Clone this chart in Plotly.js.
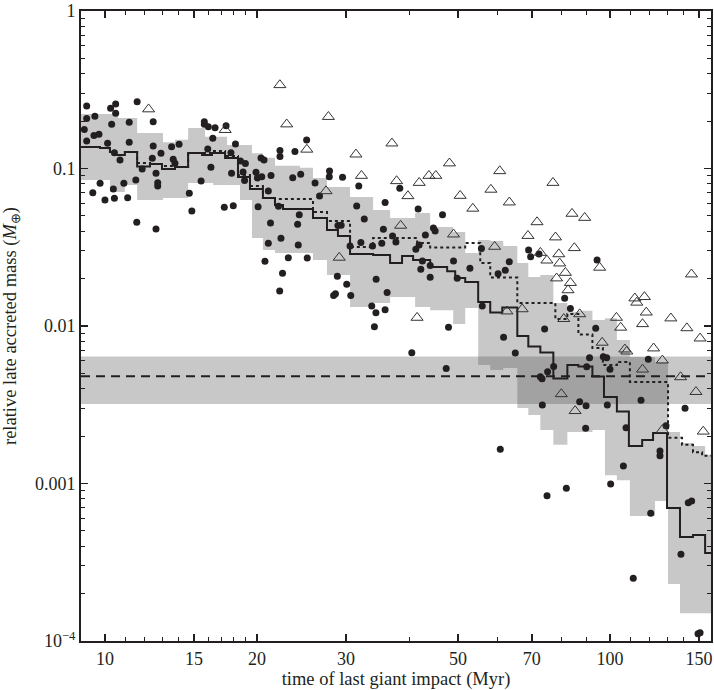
<!DOCTYPE html>
<html><head><meta charset="utf-8">
<script src="https://cdn.plot.ly/plotly-3.0.1.min.js"></script>
<style>html,body{margin:0;padding:0;background:#fff}#chart{width:714px;height:690px}</style>
</head><body><div id="chart"></div>
<script>
// filled circles: time of last giant impact (Myr), relative late accreted mass
const circleTime = [9.20,9.20,9.10,9.20,9.55,9.51,9.73,10.26,10.5,10.5,10.31,10.12,10.44,10.71,11.17,11.17,11.58,12.46,12.46,12.41,
12.91,13.55,14.02,13.65,13.76,11.85,12.62,12.72,12.72,9.46,9.78,10.0,10.44,10.39,10.9,11.09,11.51,11.56,12.62,14.69,
14.86,15.5,15.73,15.73,16.02,16.52,16.35,15.98,16.21,17.37,18.13,17.76,17.81,17.23,17.95,18.55,18.97,18.77,18.9,19.91,
20.03,20.44,20.37,20.65,21.32,21.06,20.1,21.27,21.06,20.74,22.31,25.08,22.21,22.21,23.78,23.54,24.41,27.84,27.81,29.54,
26.06,31.81,26.6,22.06,24.25,31.51,35.87,38.35,41.7,46.6,24.07,28.93,29.36,32.62,35.59,43.1,44.71,45.06,24.14,30.57,
32.12,33.87,35.33,37.11,37.68,41.26,41.89,42.52,42.21,44.05,44.05,49.0,49.83,52.8,23.07,25.15,22.47,28.85,30.11,22.18,
28.36,28.6,30.67,34.43,36.2,33.75,34.4,35.87,34.16,47.89,40.51,47.39,55.65,69.0,69.64,72.36,63.18,62.04,60.04,94.29,
81.33,83.48,55.86,74.23,93.7,61.56,64.94,91.1,97.0,98.5,100,119.1,77.35,75.25,72.79,73.36,89.93,115.2,73.46,87.09,
89.68,98.78,140.8,89.5,60.64,107.6,129.1,125.6,125.6,106.3,100.3,81.96,75.05,120.4,142.9,145.1,138.2,111.2,149.4,150.8];
const circleMass = [0.249,0.208,0.177,0.1495,0.215,0.162,0.165,0.241,0.257,0.224,0.191,0.1445,0.126,0.1132,0.1965,0.1467,0.2655,0.198,0.139,0.116,
0.1248,0.1375,0.1424,0.1143,0.1078,0.0992,0.0932,0.0812,0.0774,0.0702,0.0805,0.0631,0.0647,0.0741,0.0805,0.0652,0.0845,0.0455,0.0413,0.0696,
0.0537,0.0833,0.198,0.1907,0.184,0.1815,0.1555,0.133,0.1017,0.187,0.143,0.126,0.0932,0.0567,0.058,0.1116,0.1075,0.095,0.0839,0.0946,
0.087,0.0887,0.1166,0.1132,0.0902,0.0719,0.0572,0.0451,0.0335,0.0258,0.0361,0.1517,0.130,0.119,0.128,0.0874,0.092,0.0964,0.0887,0.0879,
0.0808,0.0774,0.0669,0.0575,0.0509,0.0577,0.0608,0.0748,0.0553,0.0509,0.0442,0.0434,0.0436,0.0478,0.0412,0.0378,0.0419,0.0401,0.0327,0.0322,
0.0339,0.0322,0.0335,0.0373,0.0341,0.0307,0.0327,0.0259,0.0229,0.0242,0.0204,0.0259,0.0201,0.0233,0.0271,0.027,0.0216,0.0207,0.0184,0.0167,
0.0156,0.016,0.0156,0.0198,0.0163,0.0134,0.01215,0.0127,0.0099,0.00981,0.00676,0.00538,0.031,0.0304,0.0275,0.0286,0.0256,0.0226,0.0215,0.0262,
0.015,0.0129,0.0134,0.00957,0.00967,0.00848,0.00673,0.00629,0.00638,0.00629,0.00531,0.00614,0.00554,0.00512,0.00476,0.00463,0.00551,0.00338,0.00315,0.00331,
0.00312,0.00315,0.0030,0.00224,0.00165,0.00226,0.00233,0.00161,0.0015,0.00129,0.000992,0.000932,0.000837,0.000647,0.000755,0.000774,0.000356,0.00025,0.000111,0.000113];

// open triangles
const triTime = [12.2,17.3,22.2,22.9,27.7,25.1,31.4,32.2,37.0,37.8,39.8,41.9,43.8,45.2,48.1,50.5,27.4,38.5,49.0,29.1,
41.5,53.5,60.5,77.1,58.1,63.2,84.1,89.1,71.7,68.8,78.0,85.0,79.2,72.8,75.0,79.5,81.6,78.4,83.5,82.6,
95.4,145,59.1,67.0,62.5,81.0,87.1,112,117,113,118,116,132,103,105,142,150.8,96.5,122,107,
108,127,116,138,148,80.1,85.3,127,153];
const triMass = [0.238,0.176,0.339,0.191,0.213,0.132,0.123,0.090,0.1445,0.0833,0.0669,0.0812,0.090,0.090,0.108,0.0672,0.0719,0.0434,0.0382,0.0272,
0.0113,0.0557,0.0964,0.0812,0.0735,0.061,0.0517,0.0487,0.0457,0.0374,0.0366,0.0313,0.0286,0.0292,0.0261,0.025,0.0218,0.0201,0.0188,0.0169,
0.0235,0.0213,0.0319,0.0128,0.0124,0.0111,0.0119,0.0150,0.0153,0.0141,0.0122,0.0103,0.0112,0.0113,0.00978,0.0097,0.00835,0.00785,0.00722,0.00711,
0.0069,0.00605,0.0053,0.00474,0.00382,0.0037,0.00289,0.00219,0.00214];

// shaded range (step) of the filled circles
const bandEdges = [8.965,10.23,10.61,10.95,11.58,13.03,13.76,14.61,15.78,16.37,17.45,18.51,19.55,20.55,21.71,24.33,25.82,27.52,30.57,33.96,
36.69,41.13,44.05,48.93,51.68,54.83,57.93,61.47,65.54,68.91,72.79,77.24,82.34,86.58,92.30,97.75,103.2,109.5,122.8,130.3,137.6,146.0,154.3,158.5];
const bandUpper = [0.222,0.222,0.209,0.209,0.168,0.147,0.152,0.181,0.159,0.159,0.141,0.141,0.125,0.117,0.104,0.101,0.087,0.0763,0.0659,0.0545,
0.0485,0.0522,0.0425,0.0395,0.0291,0.0352,0.0346,0.0322,0.0251,0.0205,0.0211,0.0140,0.0123,0.0125,0.0109,0.0112,0.00815,0.00636,0.00591,0.00212,0.00181,0.00173,0.00152];
const bandLower = [0.0845,0.0709,0.0709,0.0785,0.0631,0.0650,0.0650,0.0809,0.0809,0.0785,0.0785,0.0631,0.0362,0.0304,0.0291,0.0291,0.0262,0.0211,0.0132,0.0140,
0.0153,0.0132,0.0126,0.0103,0.0130,0.00565,0.00525,0.00541,0.00302,0.00272,0.00219,0.00176,0.00212,0.00212,0.00219,0.00113,0.00105,0.000622,0.000774,0.00023,0.00015,0.00015,0.00015];

// median of the filled circles (solid step line)
const medEdges = [8.965,9.775,10.23,10.47,10.95,11.58,12.28,12.97,13.76,14.61,15.57,16.29,17.29,18.34,19.37,20.55,21.71,22.52,25.82,27.52,
28.93,30.57,33.96,36.69,38.75,40.75,44.05,47.60,49.38,51.68,54.83,57.93,61.19,65.54,68.91,72.79,77.24,82.34,86.58,92.30,
97.30,103.2,109.0,115.8,121.7,129.7,137.6,146.0,154.3,158.5];
const medMass = [0.1369,0.1349,0.1273,0.1218,0.1273,0.1029,0.1068,0.0993,0.1022,0.1254,0.1218,0.1254,0.1166,0.0883,0.0741,0.0650,0.0586,0.0553,0.0485,0.0407,
0.0373,0.0287,0.0282,0.0251,0.0278,0.0262,0.0237,0.0223,0.0202,0.0190,0.0142,0.01218,0.0131,0.00864,0.00741,0.00679,0.00464,0.00565,0.00553,0.00478,
0.00354,0.00287,0.00173,0.00189,0.00209,0.000699,0.000457,0.000471,0.000362];

// median of all simulations (dotted step line)
const allEdges = [8.965,9.775,10.23,10.47,10.95,11.58,12.28,12.97,13.76,14.61,15.57,16.29,17.29,18.34,19.37,20.55,21.71,25.82,27.52,30.57,
33.96,41.51,44.05,51.68,55.35,57.93,65.54,77.95,82.34,86.58,92.30,96.82,103.2,109.5,130.3,138.9,146.0,152.2,158.5];
const allMass = [0.1369,0.1349,0.1273,0.1218,0.1273,0.1083,0.1068,0.1037,0.1022,0.1254,0.1254,0.1292,0.1201,0.0909,0.0774,0.0650,0.0640,0.0530,0.0464,0.0317,
0.0362,0.0337,0.0315,0.0337,0.0251,0.0203,0.0140,0.01107,0.01192,0.00883,0.00725,0.00565,0.00591,0.00441,0.00195,0.00176,0.00158,0.00150];

// reference late-veneer mass and its range
const refMass = 0.0048, refLow = 0.0032, refHigh = 0.0064;

const xRange = [8.965, 158.5];
const yRange = [1e-4, 1];
const xTickVals = [10,15,20,30,50,70,100,150];
const xTickText = ['10','15','20','30','50','70','100','150'];
const xMinorVals = [11,12,13,14,16,17,18,19,40,60,80,90,110,120,130,140];
const yTickVals = [1e-4,1e-3,1e-2,1e-1,1];
const yTickText = ['10<sup>\u22124</sup>','0.001','0.01','0.1','1'];
const yDecades = [1e-4,1e-3,1e-2,1e-1];

const yMinorVals = [];
yDecades.forEach(d => { for (let k = 2; k <= 9; k++) yMinorVals.push(k*d); });

function steps(edges, levels){
  const xs=[], ys=[];
  for (let i=0;i<levels.length;i++){ xs.push(edges[i], edges[i+1]); ys.push(levels[i], levels[i]); }
  return {xs, ys};
}
const up = steps(bandEdges, bandUpper), lo = steps(bandEdges, bandLower);
const polyX = up.xs.concat(lo.xs.slice().reverse());
const polyY = up.ys.concat(lo.ys.slice().reverse());
const med = steps(medEdges, medMass);
const all = steps(allEdges, allMass);

const ink = '#231f20';
const fnt = 'Liberation Serif, Times New Roman, serif';
const grey = 'rgba(78,78,82,0.31)';

const traces = [
  {x: polyX, y: polyY, mode:'lines', fill:'toself', fillcolor: grey, line:{width:0}, hoverinfo:'skip', showlegend:false},
  {x: xRange, y: [refMass, refMass], mode:'lines', line:{color: ink, width:2, dash:'9px,6px'}, showlegend:false},
  {x: med.xs, y: med.ys, mode:'lines', line:{color: ink, width:2}, showlegend:false},
  {x: all.xs, y: all.ys, mode:'lines', line:{color: ink, width:2, dash:'3px,3px'}, showlegend:false},
  {x: circleTime, y: circleMass, mode:'markers', marker:{symbol:'circle', size:7, color: ink}, showlegend:false},
  {x: triTime, y: triMass, mode:'markers', marker:{symbol:'triangle-up-open', size:10.5, color:'#333', line:{width:1, color:'#333'}}, showlegend:false}
];

const axisCommon = {
  showline:true, linewidth:2, linecolor: ink, mirror:'ticks', showgrid:false, zeroline:false,
  ticks:'inside', ticklen:7, tickwidth:1.6, tickcolor: ink,
  tickfont:{family: fnt, size:18, color: ink}, automargin:false
};

const layout = {
  width:714, height:690,
  margin:{l:81, r:3, t:11, b:49},
  paper_bgcolor:'#fff', plot_bgcolor:'#fff',
  font:{family: fnt, color: ink},
  showlegend:false,
  xaxis: Object.assign({}, axisCommon, {
    type:'log', range:[Math.log10(xRange[0]), Math.log10(xRange[1])],
    tickmode:'array', tickvals:xTickVals, ticktext:xTickText,
    minor:{tickmode:'array', tickvals:xMinorVals, ticks:'inside', ticklen:4, tickwidth:1, tickcolor: ink, showgrid:false},
    title:{text:'time of last giant impact (Myr)', font:{family: fnt, size:18.5, color: ink}, standoff:6}
  }),
  yaxis: Object.assign({}, axisCommon, {
    type:'log', range:[Math.log10(yRange[0]), Math.log10(yRange[1])],
    tickmode:'array', tickvals:yTickVals, ticktext:yTickText,
    minor:{tickmode:'array', tickvals:yMinorVals, ticks:'inside', ticklen:4, tickwidth:1, tickcolor: ink, showgrid:false},
    title:{text:'relative late accreted mass (<i>M</i><sub>\u2295</sub>)', font:{family: fnt, size:18.5, color: ink}, standoff:13}
  }),
  shapes:[
    {type:'rect', xref:'paper', yref:'y', x0:0, x1:1, y0:refLow, y1:refHigh, fillcolor: grey, line:{width:0}, layer:'below'}
  ]
};

Plotly.newPlot('chart', traces, layout, {staticPlot:true, displayModeBar:false});
</script>
</body></html>
